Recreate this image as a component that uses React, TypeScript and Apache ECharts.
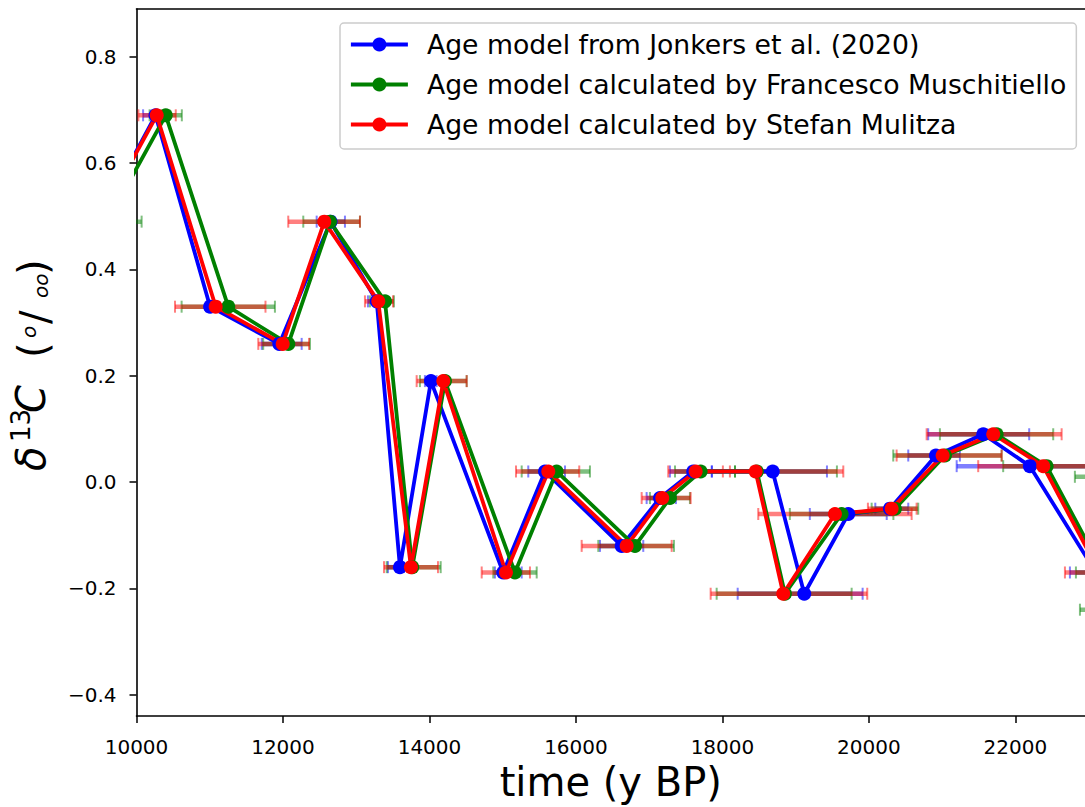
import React, { useEffect, useRef } from "react";
import * as echarts from "echarts";

const seriesNames = [
  "Age model from Jonkers et al. (2020)",
  "Age model calculated by Francesco Muschitiello",
  "Age model calculated by Stefan Mulitza",
];
const seriesColors = ["#0000ff", "#008000", "#ff0000"];
const seriesRgba = ["rgba(0,0,255,0.5)", "rgba(0,128,0,0.5)", "rgba(255,0,0,0.5)"];

// delta 13C values (per mil), shared by the three age models
const d13C = [0.49, 0.69, 0.33, 0.26, 0.49, 0.34, -0.16, 0.19, -0.17, 0.02, -0.12, -0.03, 0.02, 0.02, -0.21, -0.06, -0.05, 0.05, 0.09, 0.03, -0.17, 0.01, -0.24];

// Jonkers et al. (2020)
const ageJonkers = [9480, 10260, 11005, 11950, 12650, 13280, 13597, 14020, 15007, 15577, 16624, 17147, 17601, 18686, 19117, 19718, 20287, 20915, 21561, 22198, 23098, 23500, 23800];
const errMinusJonkers = [200, 170, 47, 240, 190, 120, 164, 82, 113, 228, 296, 182, 318, 833, 909, 525, 200, 378, 752, 1000, 354, 200, 200];
const errPlusJonkers = [200, 120, 47, 305, 196, 100, 164, 78, 252, 273, 295, 218, 256, 741, 797, 525, 250, 327, 627, 1000, 354, 200, 200];

// Francesco Muschitiello
const ageMuschitiello = [9600, 10399, 11253, 12073, 12642, 13393, 13765, 14212, 15167, 15736, 16806, 17283, 17702, 18470, 18853, 19627, 20355, 21038, 21743, 22426, 23202, 23600, 24000];
const errMinusMuschitiello = [470, 220, 637, 343, 365, 206, 349, 342, 296, 477, 501, 273, 350, 299, 932, 707, 318, 706, 774, 593, 376, 788, 1119];
const errPlusMuschitiello = [470, 220, 637, 296, 409, 122, 388, 296, 297, 455, 532, 273, 469, 1093, 911, 707, 318, 774, 773, 593, 376, 788, 1119];

// Stefan Mulitza
const ageMulitza = [9486, 10276, 11081, 11996, 12564, 13301, 13747, 14189, 15044, 15622, 16692, 17178, 17634, 18453, 18830, 19536, 20310, 21006, 21697, 22380, 23150, 23650, 24050];
const errMinusMulitza = [300, 250, 555, 333, 492, 182, 368, 364, 331, 441, 614, 281, 374, 351, 991, 1047, 324, 628, 909, 888, 474, 300, 300];
const errPlusMulitza = [300, 260, 680, 359, 487, 201, 369, 319, 328, 423, 615, 388, 372, 1197, 1147, 1047, 341, 806, 934, 888, 474, 300, 300];

const xTicks = [10000, 12000, 14000, 16000, 18000, 20000, 22000];
const yTicks = [-0.4, -0.2, 0.0, 0.2, 0.4, 0.6, 0.8];

const FONT = "DejaVu Sans";

export default function App() {
  const ref = useRef<HTMLDivElement>(null);

  useEffect(() => {
    if (!ref.current) return;
    const chart = echarts.init(ref.current, null, { renderer: "svg" });

    const models = [
      { name: seriesNames[0], color: seriesColors[0], rgba: seriesRgba[0], age: ageJonkers, lo: errMinusJonkers, hi: errPlusJonkers },
      { name: seriesNames[1], color: seriesColors[1], rgba: seriesRgba[1], age: ageMuschitiello, lo: errMinusMuschitiello, hi: errPlusMuschitiello },
      { name: seriesNames[2], color: seriesColors[2], rgba: seriesRgba[2], age: ageMulitza, lo: errMinusMulitza, hi: errPlusMulitza },
    ];

    const errSeries = models.map((m) => ({
      type: "custom",
      name: m.name + " error",
      coordinateSystem: "cartesian2d",
      xAxisIndex: 0,
      yAxisIndex: 0,
      clip: true,
      silent: true,
      z: 2,
      encode: { x: [0, 1], y: 2 },
      data: m.age.map((a, i) => [a - m.lo[i], a + m.hi[i], d13C[i]]),
      renderItem: (_params: any, api: any) => {
        const a = api.coord([api.value(0), api.value(2)]);
        const b = api.coord([api.value(1), api.value(2)]);
        const cap = 6;
        return {
          type: "group",
          children: [
            { type: "line", shape: { x1: a[0], y1: a[1], x2: b[0], y2: b[1] }, style: { stroke: m.rgba, lineWidth: 4.5 } },
            { type: "line", shape: { x1: a[0], y1: a[1] - cap, x2: a[0], y2: a[1] + cap }, style: { stroke: m.rgba, lineWidth: 2 } },
            { type: "line", shape: { x1: b[0], y1: b[1] - cap, x2: b[0], y2: b[1] + cap }, style: { stroke: m.rgba, lineWidth: 2 } },
          ],
        };
      },
    }));

    const lineSeries = models.map((m) => ({
      type: "line",
      name: m.name,
      data: m.age.map((a, i) => [a, d13C[i]]),
      symbol: "circle",
      symbolSize: 14,
      showSymbol: true,
      clip: true,
      z: 3,
      lineStyle: { width: 3.8, color: m.color },
      itemStyle: { color: m.color },
      emphasis: { disabled: true },
    }));

    const fmtY = (v: number) => {
      const s = Math.abs(v).toFixed(1);
      return v < -1e-9 ? "\u2212" + s : s;
    };

    const axisCommon = {
      axisLine: { show: true, onZero: false, lineStyle: { color: "#000", width: 1.6 } },
      axisTick: { show: true, length: 7, lineStyle: { color: "#000", width: 1.5 } },
      splitLine: { show: false },
    };

    const yLabelParts = [
      { text: "δ", x: 31, y: 471, size: 40, italic: true },
      { text: "13", x: 21, y: 442, size: 26, italic: false },
      { text: "C", x: 31, y: 413, size: 40, italic: true },
      { text: "(", x: 33, y: 358, size: 40, italic: false },
      { text: "o", x: 29, y: 338, size: 20, italic: true },
      { text: "/", x: 35, y: 324, size: 40, italic: false },
      { text: "oo", x: 41, y: 298, size: 20, italic: true },
      { text: ")", x: 33, y: 275, size: 40, italic: false },
    ];

    chart.setOption({
      animation: false,
      backgroundColor: "#ffffff",
      grid: { left: 136.5, right: 0, top: 9, bottom: 88, containLabel: false },
      legend: {
        data: seriesNames,
        orient: "vertical",
        left: 340,
        top: 23,
        padding: [8, 10, 11, 9],
        itemWidth: 57,
        itemHeight: 17.5,
        itemGap: 13,
        backgroundColor: "#ffffff",
        borderColor: "#cccccc",
        borderWidth: 1.5,
        borderRadius: 4,
        selectedMode: false,
        lineStyle: { width: 3.8 },
        textStyle: { fontFamily: FONT, fontSize: 26.7, color: "#000", lineHeight: 26, padding: [0, 0, 0, 14] },
      },
      xAxis: [
        {
          type: "value",
          min: 10000,
          max: 22950,
          position: "bottom",
          name: "time (y BP)",
          nameLocation: "middle",
          nameGap: 46,
          nameTextStyle: { fontFamily: FONT, fontSize: 40, color: "#000" },
          ...axisCommon,
          axisTick: { ...axisCommon.axisTick, customValues: xTicks },
          axisLabel: { customValues: xTicks, fontFamily: FONT, fontSize: 20, color: "#000", margin: 21, formatter: (v: number) => String(v) },
        },
        {
          type: "value",
          min: 10000,
          max: 22950,
          position: "top",
          axisLine: { show: true, onZero: false, lineStyle: { color: "#000", width: 1.6 } },
          axisTick: { show: false },
          axisLabel: { show: false },
          splitLine: { show: false },
        },
      ],
      yAxis: {
        type: "value",
        min: -0.44,
        max: 0.89,
        ...axisCommon,
        axisTick: { ...axisCommon.axisTick, customValues: yTicks },
        axisLabel: { customValues: yTicks, fontFamily: FONT, fontSize: 20, color: "#000", margin: 20, formatter: fmtY },
      },
      graphic: yLabelParts.map((p) => ({
        type: "text",
        x: p.x,
        y: p.y,
        rotation: Math.PI / 2,
        silent: true,
        style: {
          text: p.text,
          fill: "#000",
          font: `${p.italic ? "italic " : ""}${p.size}px '${FONT}'`,
          align: "left",
          verticalAlign: "middle",
        },
      })),
      series: [...errSeries, ...lineSeries],
    });

    return () => chart.dispose();
  }, []);

  return <div ref={ref} style={{ position: "fixed", left: 0, top: 0, width: 1085, height: 807 }} />;
}
